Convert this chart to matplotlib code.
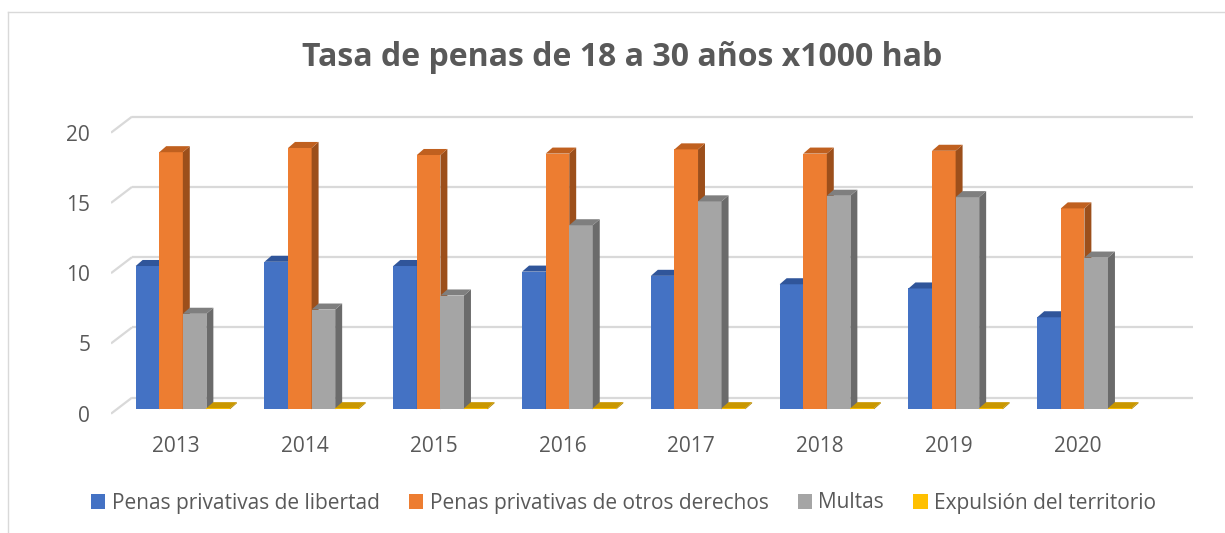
import matplotlib
matplotlib.use('Agg')
import matplotlib.pyplot as plt
from matplotlib.patches import Polygon, Patch
from matplotlib.lines import Line2D

# datos
anios = ['2013', '2014', '2015', '2016', '2017', '2018', '2019', '2020']
series = ['Penas privativas de libertad', 'Penas privativas de otros derechos', 'Multas', 'Expulsión del territorio']
libertad = [10.2, 10.5, 10.2, 9.8, 9.5, 8.9, 8.6, 6.55]
otros_derechos = [18.3, 18.6, 18.1, 18.2, 18.5, 18.2, 18.4, 14.3]
multas = [6.8, 7.1, 8.1, 13.1, 14.8, 15.2, 15.1, 10.8]
expulsion = [0.08, 0.08, 0.08, 0.08, 0.08, 0.08, 0.08, 0.08]
y_ticks = [0, 5, 10, 15, 20]

frente = ['#4472C4', '#ED7D31', '#A5A5A5', '#FFC000']
arriba = ['#30559A', '#C0601F', '#7F7F7F', '#C99700']
lado = ['#2A4A85', '#9C4F1B', '#6B6B6B', '#B08400']
gris_txt = '#595959'

plt.rcParams['font.family'] = ['Open Sans', 'DejaVu Sans']

fig = plt.figure(figsize=(12.25, 5.33), dpi=100)
ax = fig.add_axes([111/1225, (533-420.7)/533, 1082/1225, (420.7-111.6)/533])
ax.set_xlim(-0.5047, 7.896)
ax.set_ylim(-0.5, 21.5)

# profundidad de la pared del fondo y de las barras (unidades de datos)
wx, wy = 0.163, 1.14
bx, by = 0.054, 0.43
base = 0.31
ancho = 0.183
x0 = -0.313

# cuadricula 3D
for v in y_ticks:
    ax.plot([-0.5047, -0.5047 + wx], [v, v + wy], color='#D9D9D9', lw=1.6, zorder=1, solid_capstyle='butt')
    ax.plot([-0.5047 + wx, 7.896], [v + wy, v + wy], color='#D9D9D9', lw=1.6, zorder=1, solid_capstyle='butt')

valores = [libertad, otros_derechos, multas, expulsion]
for i in range(len(anios)):
    for k, vals in enumerate(valores):
        xl = i + x0 + k * ancho
        v = vals[i]
        ax.bar(xl, v, width=ancho, bottom=base, align='edge', color=frente[k], lw=0, zorder=2 + k * 0.1)
        top = base + v
        ax.add_patch(Polygon([(xl + ancho, base), (xl + ancho + bx, base + by), (xl + ancho + bx, top + by), (xl + ancho, top)],
                             closed=True, facecolor=lado[k], lw=0, zorder=2 + k * 0.1))
        ax.add_patch(Polygon([(xl, top), (xl + bx, top + by), (xl + ancho + bx, top + by), (xl + ancho, top)],
                             closed=True, facecolor=arriba[k], lw=0, zorder=2 + k * 0.1))

ax.set_xticks(range(len(anios)))
ax.set_xticklabels(anios)
ax.set_yticks(y_ticks)
ax.tick_params(axis='x', length=0, pad=11, labelsize=15, labelcolor=gris_txt)
ax.tick_params(axis='y', length=0, pad=15, labelsize=15, labelcolor=gris_txt)
for s in ax.spines.values():
    s.set_visible(False)

fig.text(0.508, 1 - 58/533, 'Tasa de penas de 18 a 30 años x1000 hab', ha='center', va='center',
         fontsize=23, fontweight='bold', color=gris_txt)

handles = [Patch(facecolor=c, edgecolor='none') for c in frente]
fig.legend(handles, series, loc='center', bbox_to_anchor=(0.5 + 11/1225, 1 - 503/533), ncol=4, frameon=False,
           fontsize=15, labelcolor=gris_txt, handlelength=0.7, handleheight=0.7, handletextpad=0.3,
           columnspacing=1.4)

# borde del area del grafico
fig.add_artist(Line2D([8/1225, 8/1225], [0, 1 - 12/533], color='#D9D9D9', lw=1))
fig.add_artist(Line2D([8/1225, 1], [1 - 12/533, 1 - 12/533], color='#D9D9D9', lw=1))

fig.savefig('out.png', dpi=100, facecolor='white')
